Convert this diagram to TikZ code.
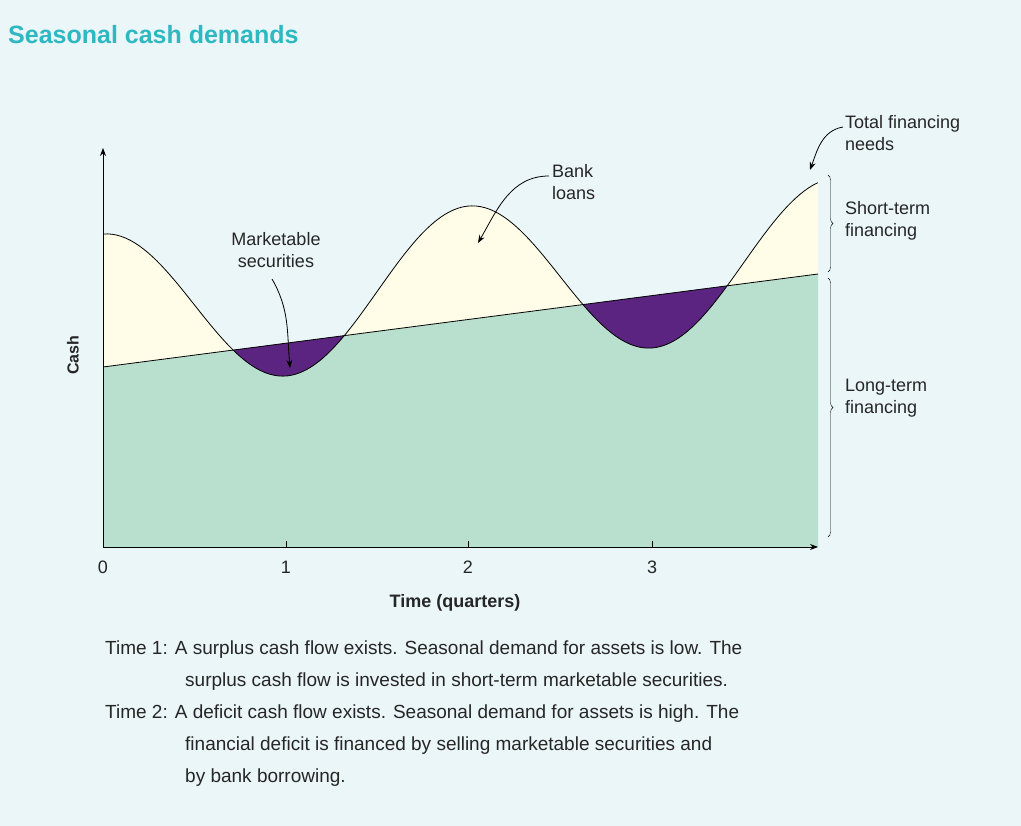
\documentclass[tikz,border=0pt]{standalone}
\usepackage{fontspec}
\setmainfont{Liberation Sans}
\usetikzlibrary{decorations.pathreplacing,arrows.meta}
\definecolor{bg}{HTML}{EBF6F9}
\definecolor{ttl}{HTML}{2DB8C2}
\definecolor{grn}{HTML}{B9E0CF}
\definecolor{crm}{HTML}{FFFDE8}
\definecolor{prp}{HTML}{5B2480}
\begin{document}
\begin{tikzpicture}[x=1pt,y=-1pt,
  lbl/.style={font=\fontsize{18}{22}\selectfont,text=black!85,align=left,inner sep=0},
  captxt/.style={font=\fontsize{19}{23}\selectfont,text=black!85,anchor=west,inner sep=0},
  callout/.style={-{Stealth[length=8pt,width=6pt]},thick}]
\fill[bg] (0,0) rectangle (1021,826);
\useasboundingbox (0,0) rectangle (1021,826);
\node[anchor=west,inner sep=0,font=\bfseries\fontsize{25}{30}\selectfont,text=ttl] (title) at (8,35) {Seasonal cash demands};
% cream under curve
\fill[crm] (103,547) -- plot[domain=0:3.907,samples=160] ({103+183*\x},{312-14*\x-78*cos(180*\x)}) -- (818,547) -- cycle;
% green under line
\fill[grn] (103,547) -- (103,367) -- (818,274) -- (818,547) -- cycle;
% purple
\begin{scope}
\clip (103,547) -- (103,367) -- (818,274) -- (818,547) -- cycle;
\fill[prp] (103,100) -- plot[domain=0:3.907,samples=160] ({103+183*\x},{312-14*\x-78*cos(180*\x)}) -- (818,100) -- cycle;
\end{scope}
\draw[thick] plot[domain=0:3.907,samples=160] ({103+183*\x},{312-14*\x-78*cos(180*\x)});
\draw[thick] (103,367) -- (818,274);
% axes
\coordinate (o) at (103,547);
\coordinate (ytop) at (103,148);
\coordinate (xend) at (818,547);
\draw[thick,-{Stealth[length=8pt,width=6pt]}] (o) -- (ytop);
\draw[thick,-{Stealth[length=8pt,width=6pt]}] (o) -- (xend);
\foreach \xx in {286,468,652}{\draw[thick] (\xx,547) -- (\xx,541);}
\foreach \i/\xx in {0/103,1/286,2/468,3/652}{\node[lbl] (t\i) at (\xx,567) {\i};}
\node[lbl,font=\bfseries\fontsize{18}{22}\selectfont] (xl) at (455,603) {Time (quarters)};
\node[lbl,rotate=90,font=\bfseries\fontsize{16}{20}\selectfont] (yl) at (73,355) {Cash};
% braces
\draw[decorate,decoration={brace,amplitude=5pt}] (828,175) -- (828,272);
\draw[decorate,decoration={brace,amplitude=5pt}] (828,278) -- (828,537);
\node[lbl,anchor=north west] (st) at (845,201) {Short-term\\financing};
\node[lbl,anchor=north west] (lt) at (845,379) {Long-term\\financing};
\node[lbl,anchor=north west] (tf) at (845,115) {Total financing\\needs};
\node[lbl,anchor=north west] (bl) at (552,164) {Bank\\loans};
\node[lbl,align=center] (ms) at (276,250) {Marketable\\securities};
\coordinate (tfe) at (810,170);
\coordinate (ble) at (478,243);
\coordinate (mse) at (290,368);
\draw[callout] (843,127) to[out=190,in=70] (tfe);
\draw[callout] (549,176) to[out=180,in=60] (ble);
\draw[callout] (272,279) to[out=-60,in=95] (mse);
% captions
\node[captxt] (c1) at (105,650) {Time 1: A surplus cash flow exists. Seasonal demand for assets is low. The};
\node[captxt] (c2) at (185,682) {surplus cash flow is invested in short-term marketable securities.};
\node[captxt] (c3) at (105,714) {Time 2: A deficit cash flow exists. Seasonal demand for assets is high. The};
\node[captxt] (c4) at (185,746) {financial deficit is financed by selling marketable securities and};
\node[captxt] (c5) at (185,778) {by bank borrowing.};
\end{tikzpicture}
\end{document}
